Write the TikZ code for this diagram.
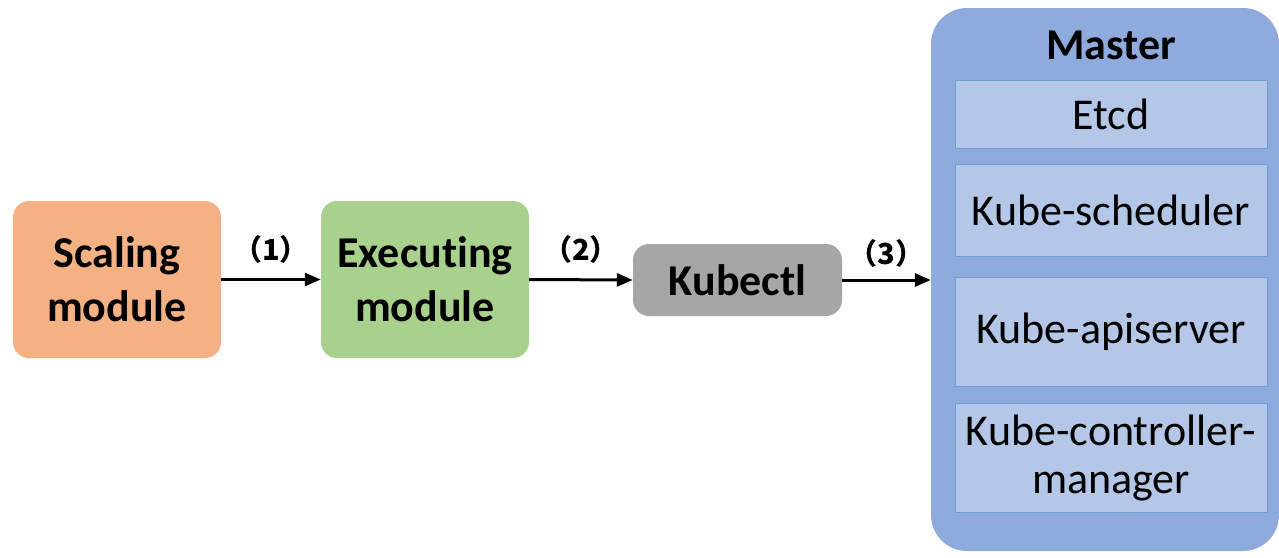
\documentclass[tikz,border=0pt]{standalone}
\usepackage{fontspec}
\setmainfont{Carlito}[Ligatures=NoCommon]
\newfontfamily\cjk{Noto Sans CJK SC}
\usetikzlibrary{arrows.meta}
\definecolor{scalefill}{HTML}{F4B183}
\definecolor{execfill}{HTML}{A9D18E}
\definecolor{kubefill}{HTML}{A6A6A6}
\definecolor{masterfill}{HTML}{8FAADC}
\definecolor{innerfill}{HTML}{B4C7E7}
\definecolor{innerline}{HTML}{6F9FD0}
\tikzset{
  x=1pt, y=-1pt,
  module/.style={draw=none, rounded corners=16pt, minimum width=208pt, minimum height=157pt,
    align=center, font=\fontsize{44}{54}\selectfont\bfseries, inner sep=0pt},
  inner/.style={draw=innerline, line width=0.8pt, fill=innerfill, minimum width=312pt,
    align=center, font=\fontsize{44}{48}\selectfont, inner sep=0pt},
  flow/.style={-{Triangle[length=16pt,width=13pt]}, line width=3pt},
  steplabel/.style={font=\cjk\fontsize{29}{32}\selectfont\bfseries, inner sep=0pt}
}
\begin{document}
\begin{tikzpicture}
\useasboundingbox (0,0) rectangle (1279,557);
\fill[white] (0,0) rectangle (1279,557);
\node[module, fill=scalefill] (scale) at (117,279.5) {Scaling\\module};
\node[module, fill=execfill] (exec) at (425,279.5) {Execut\kern0pt ing\\module};
\node[module, fill=kubefill, minimum width=209pt, minimum height=72pt] (kubectl) at (737.5,280) {Kubectl};
\node[draw=none, fill=masterfill, rounded corners=36pt, minimum width=348pt, minimum height=543pt, inner sep=0pt] (master) at (1105,279.5) {};
\node[font=\fontsize{44}{48}\selectfont\bfseries, anchor=base] (mtitle) at (1111,59) {Master};
\node[inner, minimum height=68pt] (etcd) at (1111,114) {Etcd};
\node[inner, minimum height=92pt] (sched) at (1111,210) {Kube-scheduler};
\node[inner, minimum height=109pt] (api) at (1111,331.5) {Kube-apiserver};
\node[inner, minimum height=109pt] (ctrl) at (1111,457.5) {Kube-controller-\\manager};
\draw[flow] (scale.east) -- (exec.west) node[midway, above=15pt, steplabel] (l1) {（1）};
\draw[flow] (exec.east) -- (kubectl.west) node[midway, above=15pt, steplabel] (l2) {（2）};
\draw[flow] (kubectl.east) -- (master.west |- kubectl.east) node[midway, above=11pt, steplabel] (l3) {（3）};
\end{tikzpicture}
\end{document}
